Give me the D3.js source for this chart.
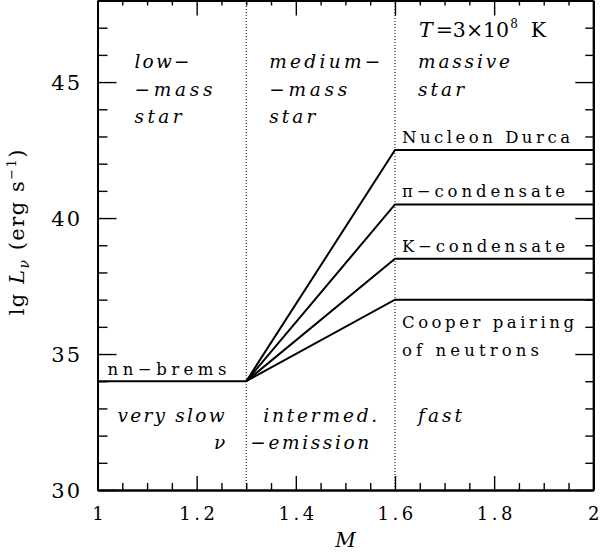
<!DOCTYPE html>
<html><head><meta charset="utf-8">
<script src="https://cdn.jsdelivr.net/npm/d3@7"></script>
<style>
body{margin:0;background:#fff}
svg{display:block}
text{font-family:"DejaVu Serif",serif;fill:#000}
</style></head><body>
<script>
// ---- data ----
const massDomain = [1, 2];
const lgDomain = [30, 48];
const xMajorTicks = [1, 1.2, 1.4, 1.6, 1.8, 2];
const xTickLabels = ["1", "1.2", "1.4", "1.6", "1.8", "2"];
const yMajorTicks = [30, 35, 40, 45];
const yTickLabels = ["30", "35", "40", "45"];
const thresholdMasses = [1.3, 1.6];
const slowMasses = [1, 1.3];
const slowLg = 34;                       // nn-brems level
const processNames = ["Nucleon Durca", "π−condensate", "K−condensate", "Cooper pairing of neutrons"];
const processLgFast = [42.5, 40.5, 38.5, 37];

// ---- layout ----
const W = 604, H = 556;
const x = d3.scaleLinear(massDomain, [97.5, 593.3]);
const y = d3.scaleLinear(lgDomain, [490, 0.5]);

const svg = d3.select("body").append("svg").attr("width", W).attr("height", H);

// minor tick positions
const xMinor = d3.range(20, 41).map(d => d / 20).filter(d => !xMajorTicks.some(m => Math.abs(m - d) < 1e-9));
const yMinor = d3.range(30, 49).filter(d => !yMajorTicks.includes(d));

function styleAxis(g) {
  g.select(".domain").attr("stroke-width", 2).attr("stroke", "#000");
  g.selectAll(".tick line").attr("stroke-width", 1.4).attr("stroke", "#000");
}

// bottom
const gB = svg.append("g").attr("transform", `translate(0,${y(30)})`);
gB.call(d3.axisBottom(x).tickValues(xMinor).tickFormat("").tickSizeInner(-7).tickSizeOuter(0));
gB.append("g").call(d3.axisBottom(x).tickValues(xMajorTicks).tickFormat((d, i) => xTickLabels[i])
  .tickSizeInner(-14).tickSizeOuter(0).tickPadding(17))
  .call(g => g.selectAll(".tick text").attr("font-family", "DejaVu Serif").attr("font-size", 18)
    .attr("letter-spacing", "3.5px").attr("dx", "1.7px").attr("fill", "#000"));
gB.selectAll("g").each(function(){ styleAxis(d3.select(this)); });
styleAxis(gB);

// top
const gT = svg.append("g").attr("transform", `translate(0,${y(48)})`);
gT.call(d3.axisTop(x).tickValues(xMinor).tickFormat("").tickSizeInner(-5).tickSizeOuter(0));
gT.append("g").call(d3.axisTop(x).tickValues(xMajorTicks).tickFormat("").tickSizeInner(-15).tickSizeOuter(0));
gT.selectAll("g").each(function(){ styleAxis(d3.select(this)); });
styleAxis(gT);

// left
const gL = svg.append("g").attr("transform", `translate(${x(1)},0)`);
gL.call(d3.axisLeft(y).tickValues(yMinor).tickFormat("").tickSizeInner(-10).tickSizeOuter(0));
gL.append("g").call(d3.axisLeft(y).tickValues(yMajorTicks).tickFormat((d, i) => yTickLabels[i])
  .tickSizeInner(-19).tickSizeOuter(0).tickPadding(15.5))
  .call(g => g.selectAll(".tick text").attr("font-family", "DejaVu Serif").attr("font-size", 21)
    .attr("letter-spacing", "2px").attr("dy", "0.36em").attr("fill", "#000"));
gL.selectAll("g").each(function(){ styleAxis(d3.select(this)); });
styleAxis(gL);

// right
const gR = svg.append("g").attr("transform", `translate(${x(2)},0)`);
gR.call(d3.axisRight(y).tickValues(yMinor).tickFormat("").tickSizeInner(-8).tickSizeOuter(0));
gR.append("g").call(d3.axisRight(y).tickValues(yMajorTicks).tickFormat("").tickSizeInner(-18).tickSizeOuter(0));
gR.selectAll("g").each(function(){ styleAxis(d3.select(this)); });
styleAxis(gR);

// dotted thresholds
svg.append("g").selectAll("line").data(thresholdMasses).join("line")
  .attr("x1", d => x(d)).attr("x2", d => x(d))
  .attr("y1", y(30)).attr("y2", y(48))
  .attr("stroke", "#000").attr("stroke-width", 1).attr("stroke-dasharray", "1,2");

// lines
const line = d3.line().x(d => x(d[0])).y(d => y(d[1]));
const lineData = [slowMasses.map(m => [m, slowLg])]
  .concat(processLgFast.map(v => [[thresholdMasses[0], slowLg], [thresholdMasses[1], v], [massDomain[1], v]]));
svg.append("g").selectAll("path").data(lineData).join("path")
  .attr("d", line).attr("fill", "none").attr("stroke", "#000").attr("stroke-width", 2)
  .attr("stroke-linejoin", "miter");

// ---- annotations ----
function label(t, px, py, opts = {}) {
  const el = svg.append("text").attr("x", px).attr("y", py)
    .attr("font-size", opts.size || 16)
    .attr("font-style", opts.italic ? "italic" : "normal")
    .attr("text-anchor", opts.anchor || "start")
    .text(t);
  if (opts.w) el.attr("textLength", opts.w).attr("lengthAdjust", "spacing");
  return el;
}
const it = { italic: true, size: 18.5 };
// region labels
label("low−", x(1) + 37, y(45.5), { ...it, w: 55 });
label("−mass", x(1) + 37, y(44.5), { ...it, w: 78 });
label("star", x(1) + 37, y(43.5), { ...it, w: 47 });
label("medium−", x(1.3) + 23, y(45.5), { ...it, w: 111 });
label("−mass", x(1.3) + 23, y(44.5), { ...it, w: 78 });
label("star", x(1.3) + 23, y(43.5), { ...it, w: 46 });
label("massive", x(1.6) + 23, y(45.5), { ...it, w: 92 });
label("star", x(1.6) + 23, y(44.5), { ...it, w: 46 });
label("very slow", x(1) + 20, y(32.5), { ...it, w: 107 });
label("intermed.", x(1.3) + 17, y(32.5), { ...it, w: 114 });
label("fast", x(1.6) + 23, y(32.5), { ...it, w: 44 });
label("ν", x(1.3) - 21, y(31.5), { ...it, anchor: "end" });
label("−emission", x(1.3) + 4, y(31.5), { ...it, w: 119 });

// process labels
const roman = { size: 16.5 };
label("nn−brems", x(1) + 10, y(slowLg) - 6, { ...roman, w: 119 });
const pW = [168, 163, 163];
processNames.slice(0, 3).forEach((n, i) => label(n, x(1.6) + 7, y(processLgFast[i]) - 7, { ...roman, w: pW[i] }));
label("Cooper pairing", x(1.6) + 7, y(processLgFast[3]) + 28, { ...roman, w: 172 });
label("of neutrons", x(1.6) + 7, y(processLgFast[3]) + 56, { ...roman, w: 137 });

// temperature label
const tT = svg.append("text").attr("x", x(1.6) + 24).attr("y", y(46.65)).attr("font-size", 20.5);
tT.append("tspan").attr("font-style", "italic").text("T");
tT.append("tspan").attr("dx", 3).text("=3×10");
tT.append("tspan").attr("font-size", 12).attr("dy", -9).attr("dx", 1).text("8");
tT.append("tspan").attr("dy", 9).attr("dx", 13).text("K");

// axis titles
svg.append("text").attr("x", (x(1) + x(2)) / 2).attr("y", 547)
  .attr("text-anchor", "middle").attr("font-size", 20).attr("font-style", "italic").text("M");

const yl = svg.append("text").attr("transform", `translate(24,${(y(36.5)+y(42.5))/2}) rotate(-90)`)
  .attr("text-anchor", "middle").attr("font-size", 21).attr("letter-spacing", "1.5px");
yl.append("tspan").text("lg ");
yl.append("tspan").attr("font-style", "italic").text("L");
yl.append("tspan").attr("font-style", "italic").attr("font-size", 14).attr("dy", 5).text("ν");
yl.append("tspan").attr("dy", -5).text(" (erg s");
yl.append("tspan").attr("font-size", 13).attr("dy", -8).text("−1");
yl.append("tspan").attr("dy", 8).text(")");
</script>
</body></html>
